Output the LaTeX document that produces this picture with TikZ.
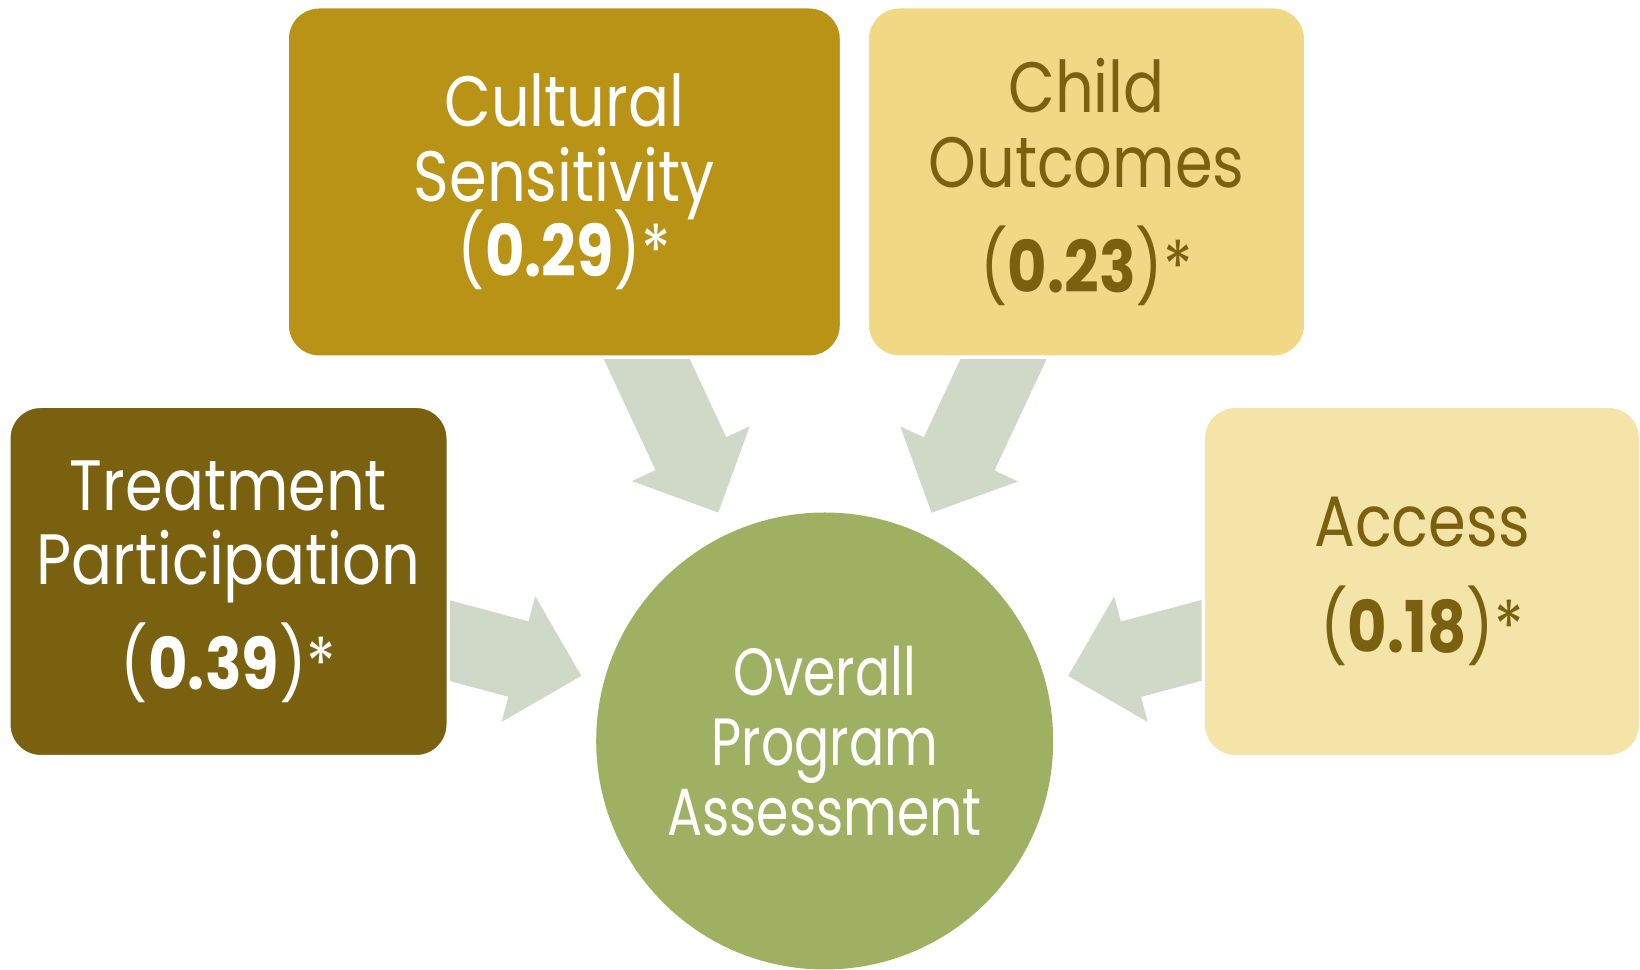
\documentclass[tikz,border=0pt]{standalone}
\usepackage{fontspec}
\setmainfont{Poppins}[FakeStretch = 0.85]
\newfontfamily\opafont{Poppins}[FakeStretch = 0.78]
\usetikzlibrary{calc,positioning,backgrounds}
\definecolor{tpbrown}{HTML}{7A6110}
\definecolor{csgold}{HTML}{B89316}
\definecolor{coyellow}{HTML}{F1D884}
\definecolor{acyellow}{HTML}{F4E4A8}
\definecolor{opagreen}{HTML}{A0B062}
\definecolor{arrowgrey}{HTML}{D0D8C7}
\newcommand\boxfont{\fontsize{20.3}{21.3}\selectfont\lineskiplimit-30pt\relax}
\newcommand\circfont{\opafont\fontsize{19}{20}\selectfont\lineskiplimit-30pt\relax}
% block arrow from a box towards the circle
\newcommand\blockarrow[1]{%
	\coordinate (tip) at ($(opa.center)!25.2mm!(#1.center)$);
	\coordinate (hb) at ($(tip)!6.5mm!(#1.center)$);
	\fill[arrowgrey] ($(#1.center)!3.9mm!90:(tip)$) -- ($(hb)!3.9mm!90:(tip)$) -- ($(hb)!6.5mm!90:(tip)$) -- (tip)
		-- ($(hb)!6.5mm!-90:(tip)$) -- ($(hb)!3.9mm!-90:(tip)$) -- ($(#1.center)!3.9mm!-90:(tip)$) -- cycle;}

\begin{document}
\begin{tikzpicture}[x = 0.1mm, y = -0.1mm,
	box/.style = {rounded corners = 3.2mm, minimum height = 35.04mm, inner sep = 0pt, align = center, draw = white, line width = 0.34mm, font = \boxfont}]
	\useasboundingbox (0,0) rectangle (1640,970);
	\node[box, fill = csgold, text = white, minimum width = 55.44mm] (cs) at (564.3,182) {Cultural\\Sensitivity\\(\textbf{0.29})*};
	\node[box, fill = coyellow, text = tpbrown, minimum width = 43.84mm] (co) at (1086.5,182) {Child\\Outcomes\\[8.4pt](\textbf{0.23})*};
	\node[box, fill = tpbrown, text = white, minimum width = 43.94mm] (tp) at (228.5,581.5) {Treatment\\Participation\\[8.4pt](\textbf{0.39})*};
	\node[box, fill = acyellow, text = tpbrown, minimum width = 43.74mm] (ac) at (1422,581.5) {Access\\[9pt](\textbf{0.18})*};
	\node[circle, fill = opagreen, text = white, minimum size = 45.7mm, inner sep = 0pt, align = center, font = \circfont] (opa) at (824.7,741) {Overall\\Program\\Assessment};
	\begin{scope}[on background layer]
		\blockarrow{cs}
		\blockarrow{co}
		\blockarrow{tp}
		\blockarrow{ac}
	\end{scope}
\end{tikzpicture}
\end{document}
